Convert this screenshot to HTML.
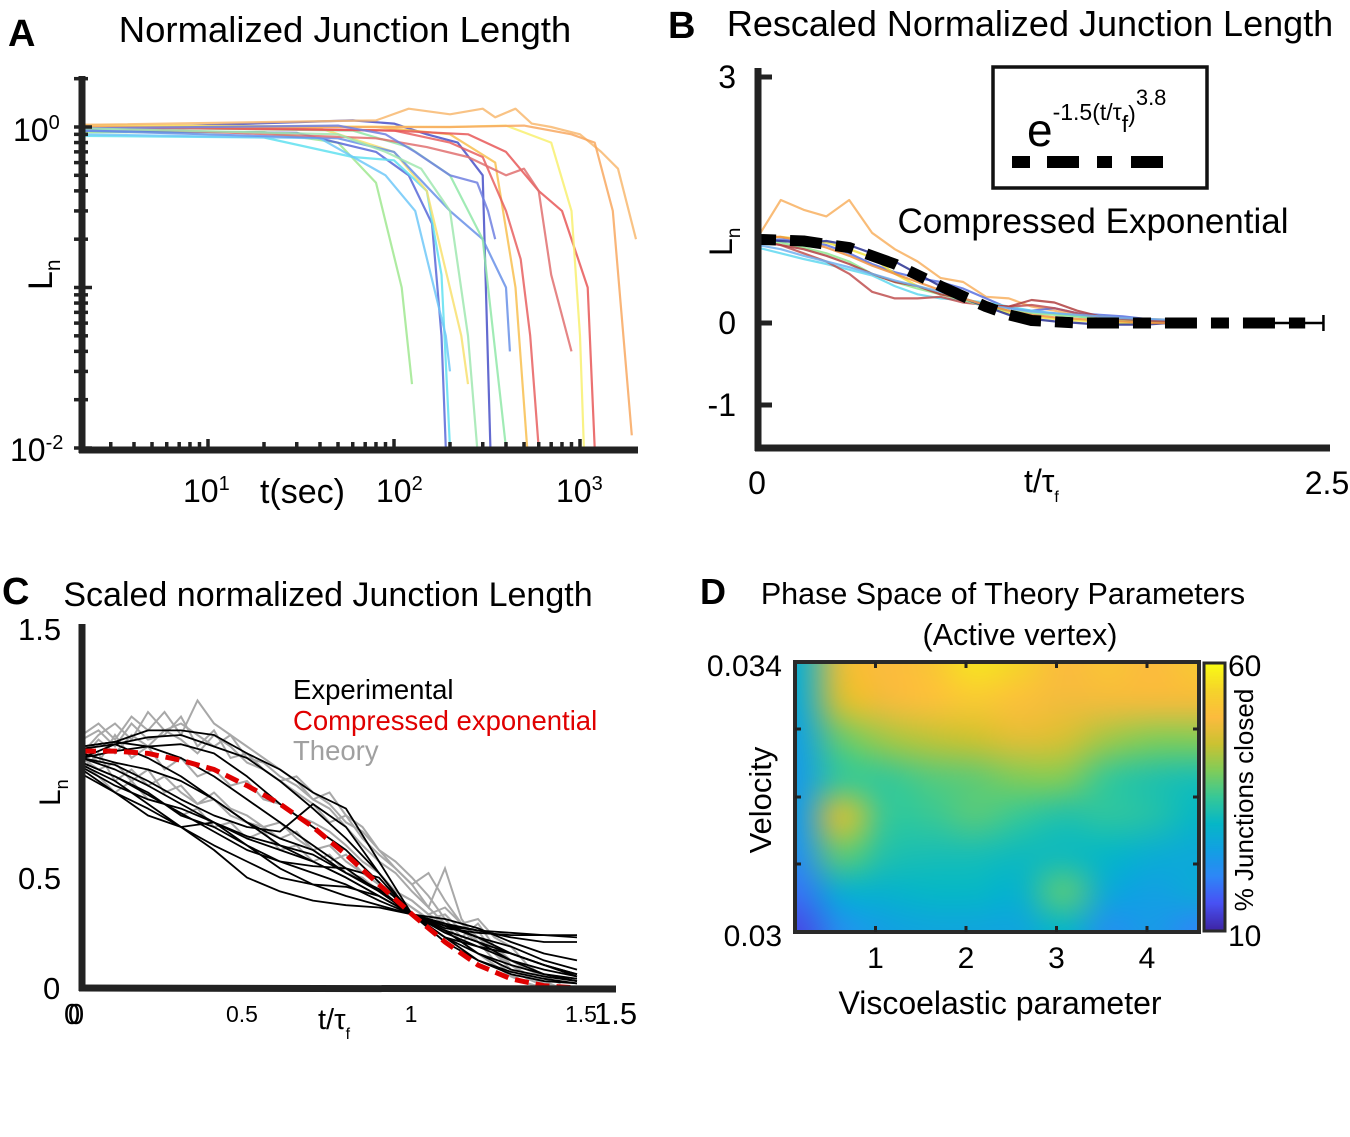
<!DOCTYPE html>
<html><head><meta charset="utf-8">
<style>
html,body{margin:0;padding:0;background:#fff;}
#wrap{position:relative;width:1350px;height:1137px;overflow:hidden;font-family:"Liberation Sans",sans-serif;}
svg{position:absolute;left:0;top:0;}
#heat{position:absolute;left:795px;top:662px;}
#cbar{position:absolute;left:1205px;top:664px;}
</style></head>
<body>
<div id="wrap">
<canvas id="heat" width="404" height="270"></canvas>
<canvas id="cbar" width="19" height="266"></canvas>
<svg id="svg" width="1350" height="1137" xmlns="http://www.w3.org/2000/svg" font-family="Liberation Sans, sans-serif">
 <!-- Panel A -->
 <text x="8" y="46" font-size="38" font-weight="bold">A</text>
 <text x="345" y="42" font-size="36.5" text-anchor="middle">Normalized Junction Length</text>
 <g id="gA"></g>
 <g id="tickA"></g>
 <line x1="82" y1="76" x2="82" y2="453" stroke="#222" stroke-width="7"/>
 <line x1="79" y1="450" x2="638" y2="450" stroke="#222" stroke-width="7"/>
 <text x="13" y="141" font-size="32">10<tspan font-size="20" dy="-12">0</tspan></text>
 <text x="10" y="461" font-size="32">10<tspan font-size="20" dy="-12">-2</tspan></text>
 <text x="183" y="502" font-size="32">10<tspan font-size="20" dy="-12">1</tspan></text>
 <text x="376" y="502" font-size="32">10<tspan font-size="20" dy="-12">2</tspan></text>
 <text x="556" y="502" font-size="32">10<tspan font-size="20" dy="-12">3</tspan></text>
 <text x="260" y="503" font-size="34">t(sec)</text>
 <text transform="translate(52,290) rotate(-90)" font-size="34">L<tspan font-size="21" dy="8">n</tspan></text>

 <!-- Panel B -->
 <text x="668" y="38" font-size="38" font-weight="bold">B</text>
 <text x="1030" y="36" font-size="36" text-anchor="middle">Rescaled Normalized Junction Length</text>
 <g id="gB"></g>
 <line x1="758" y1="68" x2="758" y2="451" stroke="#222" stroke-width="7"/>
 <line x1="755" y1="448" x2="1330" y2="448" stroke="#222" stroke-width="7"/>
 <g id="tickB"></g>
 <text x="757" y="494" font-size="32" text-anchor="middle">0</text>
 <text x="1327" y="494" font-size="32" text-anchor="middle">2.5</text>
 <text x="1024" y="492" font-size="32">t/τ<tspan font-size="16" dy="10">f</tspan></text>
 <text transform="translate(732,256) rotate(-90)" font-size="32">L<tspan font-size="19" dy="8">n</tspan></text>
 <rect x="993" y="67" width="214" height="121" fill="none" stroke="#111" stroke-width="3.5"/>
 <text x="1027" y="146" font-size="46">e<tspan font-size="23" dy="-26">-1.5(t/τ</tspan><tspan font-size="23" dy="12">f</tspan><tspan font-size="23" dy="-10">)</tspan><tspan font-size="22" dy="-17">3.8</tspan></text>
 <g>
  <rect x="1012" y="156" width="18" height="12" fill="#000"/><rect x="1047" y="156" width="32" height="12" fill="#000"/>
  <rect x="1097" y="156" width="15" height="12" fill="#000"/><rect x="1131" y="156" width="32" height="12" fill="#000"/>
 </g>
 <text x="1093" y="233" font-size="35" text-anchor="middle">Compressed Exponential</text>

 <!-- Panel C -->
 <text x="2" y="604" font-size="38" font-weight="bold">C</text>
 <text x="328" y="606" font-size="34" text-anchor="middle">Scaled normalized Junction Length</text>
 <g id="gC"></g>
 <line x1="82" y1="624" x2="82" y2="991" stroke="#222" stroke-width="7"/>
 <line x1="79" y1="988" x2="616" y2="989" stroke="#222" stroke-width="7"/>
 <text x="18" y="640" font-size="31">1.5</text>
 <text x="18" y="889" font-size="31">0.5</text>
 <text x="43" y="999" font-size="31">0</text>
 <text x="64" y="1024" font-size="29">0</text>
 <text x="68" y="1024" font-size="29">0</text>
 <text x="242" y="1022" font-size="23" text-anchor="middle">0.5</text>
 <text x="411" y="1022" font-size="23" text-anchor="middle">1</text>
 <text x="581" y="1022" font-size="23" text-anchor="middle">1.5</text>
 <text x="594" y="1024" font-size="31">1.5</text>
 <text x="318" y="1029" font-size="29">t/τ<tspan font-size="16" dy="10">f</tspan></text>
 <text transform="translate(60,806) rotate(-90)" font-size="30">L<tspan font-size="18" dy="8">n</tspan></text>
 <text x="293" y="699" font-size="27.5" fill="#000">Experimental</text>
 <text x="293" y="730" font-size="27.5" fill="#e00000">Compressed exponential</text>
 <text x="293" y="760" font-size="27.5" fill="#a0a0a0">Theory</text>

 <!-- Panel D -->
 <text x="700" y="604" font-size="36" font-weight="bold">D</text>
 <text x="1003" y="604" font-size="30.5" text-anchor="middle">Phase Space of Theory Parameters</text>
 <text x="1020" y="645" font-size="30.5" text-anchor="middle">(Active vertex)</text>
 <rect x="795" y="662" width="404" height="270" fill="none" stroke="#2a2a2a" stroke-width="4"/>
 <g id="tickD"></g>
 <rect x="1204" y="663" width="21" height="268" fill="none" stroke="#2a2a2a" stroke-width="3"/>
 <text x="782" y="676" font-size="30" text-anchor="end">0.034</text>
 <text x="782" y="946" font-size="30" text-anchor="end">0.03</text>
 <text x="1228" y="676" font-size="30">60</text>
 <text x="1228" y="946" font-size="30">10</text>
 <text transform="translate(1253,800) rotate(-90)" font-size="26" text-anchor="middle">% Junctions closed</text>
 <text transform="translate(771,800) rotate(-90)" font-size="31" text-anchor="middle">Velocity</text>
 <text x="1000" y="1014" font-size="32" text-anchor="middle">Viscoelastic parameter</text>
 <g id="xlabD"></g>
</svg>
</div>
<script>
// ---------- Panel A data (t in sec, Ln) ----------
const aColors=["#a0e890","#5868d8","#60e0f0","#70c8f8","#f8e070","#4850c8","#6890e8","#90e8a8","#f8c050","#e86060","#e85858","#e07070","#f8f070","#f8b870","#f8a860","#7080e0","#a0e8b0"];
const aT=[
[2.1,20,50,80,110,125],
[2.1,30,80,120,160,180,190],
[2.1,20,60,100,150,180,200],
[2.1,40,90,130,190,200],
[2.1,40,100,150,230,250],
[2.1,60,100,150,220,300,330],
[2.1,50,100,200,300,400,420],
[2.1,60,120,200,300,400],
[2.1,80,200,350,450,520],
[2.1,100,200,300,400,480,540,600],
[2.1,100,250,400,600,800,1100,1200],
[2.1,80,150,250,400,500,600,700,900],
[2.1,200,400,700,900,1000,1050],
[2.1,80,120,200,300,350,450,550,700,1000,1300,1600,2000],
[2.1,200,500,900,1200,1500,1900],
[2.1,50,90,130,200,280,320,350],
[2.1,50,90,140,200,250,280]];
const aL=[
[0.93,0.93,0.8,0.45,0.1,0.025],
[0.95,0.92,0.7,0.5,0.25,0.05,0.01],
[0.88,0.86,0.65,0.62,0.4,0.12,0.01],
[0.9,0.85,0.5,0.3,0.05,0.03],
[1.02,0.98,0.7,0.4,0.05,0.025],
[0.97,1.1,1.05,0.9,0.8,0.5,0.01],
[0.95,0.85,0.7,0.3,0.2,0.1,0.04],
[1.0,0.95,0.75,0.5,0.2,0.01],
[1.03,1.0,0.9,0.6,0.1,0.01],
[1.02,0.95,0.8,0.65,0.3,0.15,0.05,0.01],
[1.0,0.95,0.9,0.7,0.4,0.3,0.1,0.01],
[1.0,0.85,0.75,0.65,0.5,0.55,0.4,0.12,0.04],
[1.02,1.0,1.02,0.8,0.3,0.05,0.01],
[1.03,1.1,1.3,1.2,1.3,1.15,1.3,1.05,1.0,0.9,0.7,0.55,0.2],
[1.0,1.0,1.02,0.9,0.8,0.3,0.012],
[0.98,1.02,0.9,0.7,0.5,0.45,0.3,0.2],
[0.98,0.9,0.7,0.55,0.3,0.05,0.01]];
// ---------- Panel B data ----------
const bT=[0,0.1,0.2,0.3,0.4,0.5,0.6,0.7,0.8,0.9,1.0,1.1,1.2,1.3,1.4,1.5,1.6,1.7,1.8,1.9];
const bColors=["#f8b060","#5870e0","#60d8f0","#c05050","#f0e040","#90e890","#283090","#b04040","#70b0f0","#f09040"];
const bL=[
[1.05,1.5,1.38,1.3,1.5,1.1,0.9,0.75,0.55,0.5,0.32,0.3,0.2,0.15,0.1,0.08,0.06,0.05,0.04,0.03],
[1.0,1.02,1.0,0.95,0.85,0.72,0.62,0.55,0.5,0.42,0.3,0.18,0.15,0.18,0.12,0.1,0.08,0.05,0.02,0.0],
[0.92,0.85,0.78,0.72,0.65,0.58,0.45,0.35,0.3,0.28,0.25,0.2,0.15,0.12,0.08,0.05,0.03,0.02,0.01,0.0],
[1.0,0.95,0.85,0.75,0.6,0.38,0.3,0.3,0.32,0.25,0.22,0.2,0.22,0.18,0.12,0.05,0.03,0.02,0.0,0.0],
[1.03,1.05,1.02,0.98,0.9,0.8,0.6,0.45,0.35,0.3,0.22,0.12,0.08,0.05,0.03,0.02,0.0,0.0,0.0,0.0],
[1.0,0.98,0.92,0.85,0.75,0.6,0.5,0.42,0.35,0.28,0.2,0.15,0.12,0.1,0.08,0.05,0.03,0.02,0.01,0.0],
[1.02,1.0,0.98,1.0,0.95,0.85,0.75,0.6,0.45,0.3,0.2,0.1,0.05,0.02,0.0,-0.02,-0.02,-0.02,0.0,0.0],
[1.0,0.95,0.9,0.82,0.72,0.6,0.5,0.45,0.35,0.3,0.22,0.2,0.28,0.25,0.15,0.08,0.05,0.03,0.02,0.0],
[0.95,0.9,0.82,0.75,0.68,0.6,0.52,0.45,0.38,0.3,0.22,0.18,0.14,0.12,0.1,0.08,0.06,0.05,0.04,0.03],
[1.05,1.05,1.0,0.92,0.82,0.7,0.6,0.5,0.4,0.3,0.22,0.15,0.1,0.07,0.05,0.03,0.02,0.0,0.0,0.0]];
const bFitT=[0,0.2,0.4,0.6,0.8,1.0,1.1,1.2,1.4,1.6,2.0,2.4];
const bFitL=[1.02,1.0,0.92,0.72,0.45,0.2,0.1,0.03,0.0,0.0,0.0,0.0];
const bYTicks=[3,0,-1];
// ---------- Panel C data ----------
const cT=[0,0.1,0.2,0.3,0.4,0.5,0.6,0.7,0.8,0.9,1.0,1.1,1.2,1.3,1.4,1.5];
const cFit=[1.03,1.03,1.02,0.99,0.95,0.88,0.80,0.70,0.58,0.45,0.32,0.20,0.10,0.04,0.01,0.0];
const cExp=[
[1.05,1.07,1.12,1.12,1.1,1.02,0.95,0.85,0.78,0.55,0.32,0.25,0.2,0.12,0.06,0.03],
[1.0,1.06,1.09,1.1,1.05,1.0,0.9,0.78,0.65,0.5,0.32,0.22,0.18,0.15,0.1,0.05],
[1.0,0.97,0.9,0.82,0.75,0.7,0.68,0.8,0.7,0.5,0.32,0.26,0.24,0.23,0.23,0.23],
[0.98,0.92,0.84,0.76,0.68,0.6,0.55,0.53,0.52,0.48,0.32,0.27,0.25,0.24,0.23,0.22],
[0.95,0.85,0.78,0.7,0.62,0.55,0.48,0.45,0.44,0.4,0.32,0.3,0.26,0.2,0.15,0.12],
[0.97,0.9,0.8,0.7,0.6,0.48,0.42,0.38,0.36,0.35,0.32,0.28,0.22,0.15,0.1,0.06],
[1.0,0.95,0.88,0.8,0.72,0.65,0.6,0.55,0.48,0.4,0.32,0.25,0.15,0.08,0.05,0.03],
[1.05,1.07,1.05,1.0,0.92,0.82,0.72,0.62,0.52,0.42,0.32,0.22,0.12,0.06,0.03,0.02],
[1.02,0.98,0.95,0.9,0.82,0.72,0.62,0.55,0.48,0.4,0.32,0.24,0.18,0.12,0.08,0.05],
[0.93,0.85,0.75,0.7,0.72,0.62,0.52,0.45,0.4,0.36,0.32,0.27,0.22,0.18,0.12,0.08],
[1.0,1.03,1.05,1.06,1.02,0.92,0.8,0.7,0.6,0.46,0.32,0.2,0.12,0.07,0.04,0.02],
[0.98,0.92,0.85,0.75,0.7,0.62,0.55,0.5,0.45,0.38,0.32,0.28,0.25,0.22,0.2,0.2],
[1.04,1.06,1.0,0.92,0.82,0.72,0.65,0.6,0.5,0.42,0.32,0.25,0.2,0.15,0.1,0.06],
[0.96,0.88,0.82,0.78,0.72,0.66,0.62,0.58,0.5,0.43,0.32,0.22,0.15,0.1,0.06,0.04]];
const gT=[0,0.05,0.1,0.15,0.2,0.25,0.3,0.35,0.4,0.45,0.5,0.55,0.6,0.65,0.7,0.75,0.8,0.85,0.9,0.95,1.0,1.05,1.1,1.15,1.2,1.25,1.3,1.35,1.4,1.45];
const cTheory=[
[1.1,1.15,1.08,1.18,1.12,1.2,1.1,1.25,1.15,1.1,1.05,1.0,0.95,0.9,0.82,0.78,0.7,0.62,0.55,0.5,0.42,0.35,0.28,0.2,0.15,0.1,0.05,0.02,0.0,0.0],
[1.0,1.08,1.02,1.1,1.05,1.12,1.08,1.02,1.1,1.05,0.98,0.95,0.9,0.85,0.8,0.72,0.75,0.65,0.58,0.52,0.45,0.5,0.38,0.28,0.22,0.15,0.08,0.04,0.01,0.0],
[1.05,0.98,1.1,1.0,1.05,0.95,1.0,0.92,0.95,0.88,0.9,0.82,0.8,0.75,0.72,0.68,0.62,0.55,0.5,0.42,0.38,0.32,0.35,0.28,0.3,0.22,0.18,0.1,0.05,0.02],
[0.95,1.02,0.9,0.95,0.88,0.92,0.85,0.8,0.85,0.78,0.75,0.7,0.72,0.65,0.6,0.62,0.55,0.5,0.45,0.4,0.35,0.3,0.25,0.2,0.25,0.15,0.1,0.06,0.03,0.0],
[1.08,1.12,1.05,1.15,1.08,1.1,1.18,1.05,1.12,1.0,1.02,0.95,0.9,0.92,0.85,0.8,0.72,0.68,0.6,0.52,0.45,0.35,0.52,0.3,0.2,0.12,0.06,0.02,0.0,0.0],
[1.0,0.95,0.98,0.9,0.95,0.85,0.88,0.8,0.82,0.75,0.72,0.7,0.65,0.68,0.6,0.55,0.58,0.5,0.45,0.42,0.38,0.32,0.28,0.25,0.22,0.18,0.12,0.08,0.05,0.02],
[1.02,1.1,1.15,1.08,1.2,1.12,1.15,1.1,1.05,1.1,1.0,0.98,0.92,0.88,0.82,0.85,0.75,0.7,0.6,0.55,0.48,0.4,0.3,0.22,0.28,0.18,0.1,0.05,0.02,0.0],
[0.98,0.92,0.85,0.9,0.82,0.8,0.75,0.78,0.7,0.72,0.65,0.68,0.6,0.62,0.55,0.58,0.5,0.48,0.42,0.4,0.35,0.3,0.32,0.25,0.2,0.15,0.12,0.08,0.05,0.02]];
// ---------- Panel D data (rows: top=0.034 .. bottom=0.03) ----------
const dGrid=[
[28,48,50,52,57,55,50,52,50,53],
[27,46,49,51,53,51,49,49,49,49],
[25,38,42,44,45,47,46,42,40,40],
[24,35,35,37,38,40,40,35,33,32],
[24,46,35,35,37,35,33,34,33,30],
[22,38,33,32,32,31,31,30,28,27],
[18,28,29,30,30,29,37,27,25,27],
[14,22,25,26,26,26,30,22,24,20]];
const dXTicks=[1,2,3,4];
const NS="http://www.w3.org/2000/svg";
function mk(tag,attrs,parent){const e=document.createElementNS(NS,tag);for(const k in attrs)e.setAttribute(k,attrs[k]);parent.appendChild(e);return e;}
const axA=t=>208+(Math.log10(t)-1)*186, ayA=v=>127-Math.log10(Math.max(v,0.008))*160.5;
const axB=t=>758+t*228, ayB=v=>323-v*82;
const axC=t=>82+t*330, ayC=v=>988-v*230;
const axD=v=>785+v*90.5;
// Panel A
const gA=document.getElementById('gA');
aT.forEach((ts,i)=>{const p=mk('polyline',{points:ts.map((t,j)=>axA(t).toFixed(1)+','+Math.min(ayA(aL[i][j]),450).toFixed(1)).join(' '),fill:'none',stroke:aColors[i],'stroke-width':2.2,'stroke-opacity':0.85,'stroke-linejoin':'round'},gA);

});
const tA=document.getElementById('tickA');
for(let d=-2;d<=0;d++)for(let k=1;k<10;k++){const v=k*Math.pow(10,d);if(v>2)continue;const y=ayA(v);mk('line',{x1:74,x2:k==1?92:88,y1:y,y2:y,stroke:'#222','stroke-width':3.5},tA);}
for(let d=0;d<=3;d++)for(let k=1;k<10;k++){const t=k*Math.pow(10,d);const x=axA(t);if(x<86||x>634)continue;mk('line',{x1:x,x2:x,y1:k==1?439:442,y2:452,stroke:'#222','stroke-width':3.5},tA);}
// Panel B
const gB=document.getElementById('gB');
bL.forEach((vals,i)=>{const p=mk('polyline',{points:vals.map((v,j)=>axB(bT[j]).toFixed(1)+','+ayB(v).toFixed(1)).join(' '),fill:'none',stroke:bColors[i],'stroke-width':2.2,'stroke-opacity':0.85,'stroke-linejoin':'round'},gB);

});
const fb=mk('polyline',{points:bFitT.map((t,j)=>axB(t).toFixed(1)+','+ayB(bFitL[j]).toFixed(1)).join(' '),fill:'none',stroke:'#000','stroke-width':11,'stroke-dasharray':'18 14 32 14','stroke-linejoin':'round'},gB);


const eb=mk('path',{d:`M${axB(2.2)} ${ayB(0)}H${axB(2.48)}M${axB(2.48)} ${ayB(0)-8}V${ayB(0)+8}`,stroke:'#000','stroke-width':2.5,fill:'none'},gB);


const tB=document.getElementById('tickB');
bYTicks.forEach(v=>{mk('line',{x1:758,x2:772,y1:ayB(v),y2:ayB(v),stroke:'#222','stroke-width':5},tB);
const tx=mk('text',{x:736,y:ayB(v)+11,'font-size':32,'text-anchor':'end'},tB);tx.textContent=v;});
// Panel C
const gC=document.getElementById('gC');
cTheory.forEach(vals=>{const p=mk('polyline',{points:vals.map((v,j)=>axC(gT[j]).toFixed(1)+','+ayC(v).toFixed(1)).join(' '),fill:'none',stroke:'#a8a8a8','stroke-width':2},gC);

});
cExp.forEach(vals=>{const p=mk('polyline',{points:vals.map((v,j)=>axC(cT[j]).toFixed(1)+','+ayC(v).toFixed(1)).join(' '),fill:'none',stroke:'#000','stroke-width':1.8,'stroke-linejoin':'round'},gC);

});
const fc=mk('polyline',{points:cFit.map((v,j)=>axC(cT[j]).toFixed(1)+','+ayC(v).toFixed(1)).join(' '),fill:'none',stroke:'#e00000','stroke-width':5,'stroke-dasharray':'14 7'},gC);


// Panel D heatmap
const stops=[[62,38,168],[72,82,244],[46,135,247],[18,160,227],[6,183,199],[55,200,151],[129,204,89],[203,194,50],[252,187,62],[245,211,43],[249,251,20]];
function cmap(v){let f=(v-10)/50;f=Math.max(0,Math.min(1,f))*(stops.length-1);const i=Math.min(Math.floor(f),stops.length-2),r=f-i;return stops[i].map((c,k)=>Math.round(c+(stops[i+1][k]-c)*r));}
const small=document.createElement('canvas');small.width=dGrid[0].length;small.height=dGrid.length;
const sc=small.getContext('2d');const img=sc.createImageData(small.width,small.height);
dGrid.forEach((row,r)=>row.forEach((v,c)=>{const col=cmap(v),o=(r*small.width+c)*4;img.data[o]=col[0];img.data[o+1]=col[1];img.data[o+2]=col[2];img.data[o+3]=255;}));
sc.putImageData(img,0,0);
const hc=document.getElementById('heat').getContext('2d');hc.imageSmoothingEnabled=true;hc.imageSmoothingQuality='high';
hc.drawImage(small,0,0,small.width,small.height,-20,-17,444,304);
const cb=document.getElementById('cbar').getContext('2d');
for(let y=0;y<266;y++){const c=cmap(60-50*y/265);cb.fillStyle=`rgb(${c})`;cb.fillRect(0,y,19,1);}
const tD=document.getElementById('tickD'),xl=document.getElementById('xlabD');
dXTicks.forEach(v=>{const x=axD(v);mk('line',{x1:x,x2:x,y1:926,y2:932,stroke:'#222','stroke-width':3},tD);mk('line',{x1:x,x2:x,y1:662,y2:668,stroke:'#222','stroke-width':3},tD);
const t=mk('text',{x:x,y:968,'font-size':30,'text-anchor':'middle'},xl);t.textContent=v;});
[729,797,864].forEach(y=>{mk('line',{x1:795,x2:801,y1:y,y2:y,stroke:'#222','stroke-width':3},tD);mk('line',{x1:1193,x2:1199,y1:y,y2:y,stroke:'#222','stroke-width':3},tD);});
</script>
</body></html>
